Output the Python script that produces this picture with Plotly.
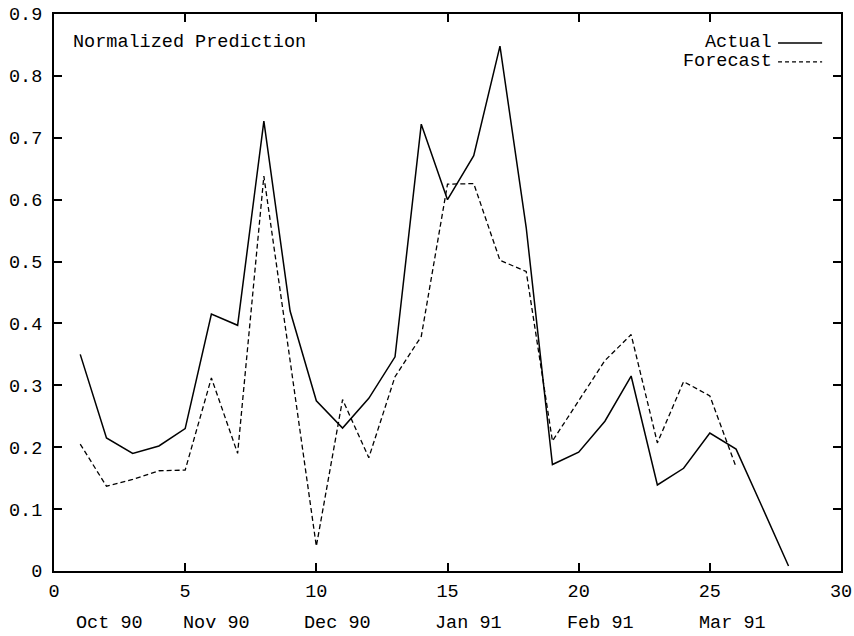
import plotly.graph_objects as go

x_actual = list(range(1, 29))
actual = [0.350, 0.215, 0.190, 0.202, 0.230, 0.415, 0.397, 0.727, 0.420, 0.275,
          0.231, 0.279, 0.346, 0.722, 0.600, 0.671, 0.848, 0.555, 0.172, 0.192,
          0.242, 0.315, 0.139, 0.166, 0.223, 0.197, 0.103, 0.008]
x_forecast = list(range(1, 27))
forecast = [0.205, 0.137, 0.148, 0.162, 0.163, 0.312, 0.190, 0.638, 0.340, 0.040,
            0.277, 0.183, 0.314, 0.379, 0.625, 0.626, 0.502, 0.484, 0.210, 0.275,
            0.340, 0.382, 0.207, 0.306, 0.283, 0.168]
month_labels = ["Oct 90", "Nov 90", "Dec 90", "Jan 91", "Feb 91", "Mar 91"]
month_pos = [2.13, 6.2, 10.8, 15.8, 20.85, 25.85]
x_ticks = [0, 5, 10, 15, 20, 25, 30]
y_ticks = [0, 0.1, 0.2, 0.3, 0.4, 0.5, 0.6, 0.7, 0.8, 0.9]
y_tick_text = ["0", "0.1", "0.2", "0.3", "0.4", "0.5", "0.6", "0.7", "0.8", "0.9"]

FONT = "Courier New, Liberation Mono, monospace"
FS = 18.5

fig = go.Figure()
fig.add_trace(go.Scatter(x=x_actual, y=actual, mode="lines", name="Actual",
                         line=dict(color="black", width=1.5)))
fig.add_trace(go.Scatter(x=x_forecast, y=forecast, mode="lines", name="Forecast",
                         line=dict(color="black", width=1.3, dash="5px,3px")))

axis_common = dict(showgrid=False, zeroline=False, showline=True, linecolor="black",
                   linewidth=2, mirror="ticks", ticks="inside", ticklen=8,
                   tickwidth=2, tickcolor="black", automargin=False,
                   ticklabeloverflow="allow",
                   tickfont=dict(family=FONT, size=FS, color="black"))

fig.update_xaxes(range=[0, 30], tickvals=x_ticks, ticklabelstandoff=2, **axis_common)
fig.update_yaxes(range=[0, 0.9], tickvals=y_ticks, ticktext=y_tick_text,
                 ticklabelstandoff=6, **axis_common)

annotations = [dict(x=0.022, y=0.948, xref="paper", yref="paper", text="Normalized Prediction",
                    showarrow=False, xanchor="left", yanchor="middle",
                    font=dict(family=FONT, size=FS, color="black")),
               dict(x=0.915, y=0.948, xref="paper", yref="paper", text="Actual",
                    showarrow=False, xanchor="right", yanchor="middle",
                    font=dict(family=FONT, size=FS, color="black")),
               dict(x=0.915, y=0.914, xref="paper", yref="paper", text="Forecast",
                    showarrow=False, xanchor="right", yanchor="middle",
                    font=dict(family=FONT, size=FS, color="black"))]
for lab, pos in zip(month_labels, month_pos):
    annotations.append(dict(x=pos, y=-0.095, xref="x", yref="paper", text=lab,
                            showarrow=False, xanchor="center", yanchor="middle",
                            font=dict(family=FONT, size=FS, color="black")))

shapes = [dict(type="line", xref="paper", yref="paper", x0=0.92, x1=0.976, y0=0.948, y1=0.948,
               line=dict(color="black", width=1.5)),
          dict(type="line", xref="paper", yref="paper", x0=0.92, x1=0.976, y0=0.914, y1=0.914,
               line=dict(color="black", width=1.3, dash="4px,3px"))]

fig.update_layout(width=854, height=636, showlegend=False,
                  margin=dict(l=54, r=13, t=14, b=65, autoexpand=False),
                  plot_bgcolor="white", paper_bgcolor="white",
                  annotations=annotations, shapes=shapes)
fig.write_html("out.html", config={"displayModeBar": False},
               post_script="document.body.style.margin='0px';document.body.style.overflow='hidden';")
